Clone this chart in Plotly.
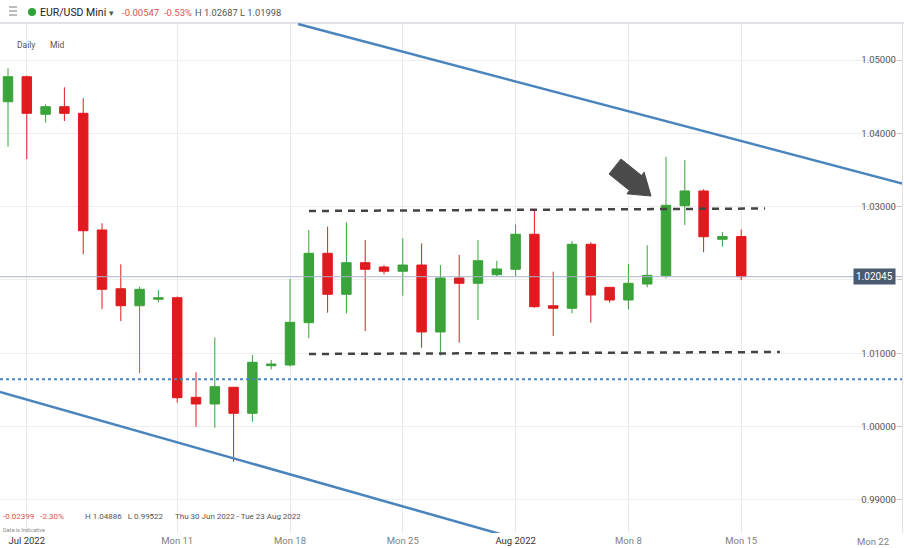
import plotly.graph_objects as go

# ---------------- data ----------------
dates = ["2022-06-30", "2022-07-01", "2022-07-03", "2022-07-04", "2022-07-05", "2022-07-06",
         "2022-07-07", "2022-07-08", "2022-07-10", "2022-07-11", "2022-07-12", "2022-07-13",
         "2022-07-14", "2022-07-15", "2022-07-17", "2022-07-18", "2022-07-19", "2022-07-20",
         "2022-07-21", "2022-07-22", "2022-07-24", "2022-07-25", "2022-07-26", "2022-07-27",
         "2022-07-28", "2022-07-29", "2022-07-31", "2022-08-01", "2022-08-02", "2022-08-03",
         "2022-08-04", "2022-08-05", "2022-08-07", "2022-08-08", "2022-08-09", "2022-08-10",
         "2022-08-11", "2022-08-12", "2022-08-14", "2022-08-15"]
opens = [1.04431, 1.04772, 1.04260, 1.04363, 1.04273, 1.02682, 1.01881, 1.01649, 1.01737, 1.01758,
         1.00400, 1.00309, 1.00537, 1.00182, 1.00831, 1.00841, 1.01418, 1.02364, 1.01805, 1.02236,
         1.02177, 1.02119, 1.02204, 1.01291, 1.02027, 1.01955, 1.02072, 1.02146, 1.02624, 1.01649,
         1.01614, 1.02487, 1.01900, 1.01727, 1.01945, 1.02059, 1.03013, 1.03214, 1.02555, 1.02592]
highs = [1.04886, 1.04786, 1.04396, 1.04628, 1.04478, 1.02773, 1.02214, 1.01909, 1.01863, 1.01775,
         1.00741, 1.01218, 1.00541, 1.00977, 1.00909, 1.02014, 1.02682, 1.02727, 1.02787, 1.02545,
         1.02204, 1.02568, 1.02500, 1.02204, 1.02341, 1.02545, 1.02263, 1.02757, 1.02948, 1.02113,
         1.02532, 1.02514, 1.01904, 1.02218, 1.02473, 1.03681, 1.03636, 1.03237, 1.02654, 1.02687]
lows = [1.03818, 1.03650, 1.04145, 1.04168, 1.02350, 1.01604, 1.01441, 1.00727, 1.01696, 1.00327,
        0.99999, 0.99986, 0.99522, 1.00068, 1.00782, 1.00818, 1.01205, 1.01554, 1.01546, 1.01304,
        1.02078, 1.01786, 1.01077, 1.00968, 1.01145, 1.01454, 1.02045, 1.02054, 1.01622, 1.01236,
        1.01546, 1.01418, 1.01690, 1.01600, 1.01900, 1.02023, 1.02750, 1.02378, 1.02454, 1.01998]
closes = [1.04772, 1.04273, 1.04363, 1.04273, 1.02672, 1.01873, 1.01649, 1.01873, 1.01758, 1.00395,
          1.00309, 1.00545, 1.00182, 1.00878, 1.00854, 1.01423, 1.02364, 1.01805, 1.02236, 1.02146,
          1.02119, 1.02204, 1.01291, 1.02027, 1.01955, 1.02263, 1.02150, 1.02624, 1.01636, 1.01614,
          1.02487, 1.01795, 1.01727, 1.01955, 1.02064, 1.03019, 1.03214, 1.02590, 1.02592, 1.02045]

x_tick_pos = [1, 9, 15, 21, 27, 33, 39, 46]
x_tick_labels = ["Jul 2022", "Mon 11", "Mon 18", "Mon 25", "Aug 2022", "Mon 8", "Mon 15", "Mon 22"]
y_tick_vals = [0.99, 1.00, 1.01, 1.02, 1.03, 1.04, 1.05]
y_tick_labels = ["0.99000", "1.00000", "1.01000", "", "1.03000", "1.04000", "1.05000"]

last_price = 1.02045
support_level = 1.00648
upper_trend_x = [15.43, 47.66]
upper_trend_y = [1.05491, 1.03309]
lower_trend_x = [-0.43, 26.17]
lower_trend_y = [1.00473, 0.98536]
resist_x = [16.01, 40.27]
resist_y = [1.02941, 1.02975]
range_low_x = [16.01, 41.06]
range_low_y = [1.00991, 1.01018]
arrow_x = [32.606, 33.697, 33.835, 34.202, 32.920, 33.059, 31.968]
arrow_y = [1.03650, 1.03425, 1.03470, 1.03145, 1.03175, 1.03220, 1.03445]

# ---------------- figure ----------------
W, H = 904, 548
ML, MR, MT, MB = 0, 2, 23, 15
PW, PH = W - ML - MR, H - MT - MB
X_RANGE = [-0.4255, 47.553]
Y_RANGE = [0.985497, 1.055046]

GREEN = "#3aa33a"
RED = "#e01b1f"
idx = list(range(len(dates)))

fig = go.Figure()
fig.add_trace(go.Candlestick(
    x=idx, open=opens, high=highs, low=lows, close=closes,
    increasing=dict(line=dict(color=GREEN, width=1), fillcolor=GREEN),
    decreasing=dict(line=dict(color=RED, width=1), fillcolor=RED),
    whiskerwidth=0, hoverinfo="skip", showlegend=False,
))

shapes = []
# header separator
shapes.append(dict(type="line", xref="paper", yref="paper", x0=0, x1=1.01, y0=1.0, y1=1.0,
                   line=dict(color="#dfe2e6", width=2)))
# hamburger
for yy in (7, 11, 15):
    shapes.append(dict(type="line", xref="paper", yref="paper",
                       x0=9 / PW, x1=17 / PW, y0=(H - MB - yy) / PH, y1=(H - MB - yy) / PH,
                       line=dict(color="#9a9a9a", width=1.3)))
# green dot
shapes.append(dict(type="circle", xref="paper", yref="paper",
                   x0=28 / PW, x1=36 / PW, y0=(H - MB - 16) / PH, y1=(H - MB - 8) / PH,
                   fillcolor="#2ea33a", line=dict(width=0)))
# last price line
shapes.append(dict(type="line", xref="paper", yref="y", x0=0, x1=1, y0=last_price, y1=last_price,
                   line=dict(color="#aab2cc", width=1), layer="above"))
# support dotted line
shapes.append(dict(type="line", xref="paper", yref="y", x0=0, x1=1, y0=support_level, y1=support_level,
                   line=dict(color="#4a86c6", width=2, dash="dot")))
# trend lines
shapes.append(dict(type="line", xref="x", yref="y", x0=upper_trend_x[0], x1=upper_trend_x[1],
                   y0=upper_trend_y[0], y1=upper_trend_y[1], line=dict(color="#4a84bd", width=2.5)))
shapes.append(dict(type="line", xref="x", yref="y", x0=lower_trend_x[0], x1=lower_trend_x[1],
                   y0=lower_trend_y[0], y1=lower_trend_y[1], line=dict(color="#4a84bd", width=2.5)))
# range dashed lines
shapes.append(dict(type="line", xref="x", yref="y", x0=resist_x[0], x1=resist_x[1],
                   y0=resist_y[0], y1=resist_y[1], line=dict(color="#444444", width=2.5, dash="7px,6px")))
shapes.append(dict(type="line", xref="x", yref="y", x0=range_low_x[0], x1=range_low_x[1],
                   y0=range_low_y[0], y1=range_low_y[1], line=dict(color="#444444", width=2.5, dash="7px,6px")))
# arrow
path = "M " + " L ".join(f"{a},{b}" for a, b in zip(arrow_x, arrow_y)) + " Z"
shapes.append(dict(type="path", xref="x", yref="y", path=path, fillcolor="#4b4b4b",
                   line=dict(color="#4b4b4b", width=1)))


def px(x):
    return (x - ML) / PW


def py(y):
    return (H - MB - y) / PH


FONT = "Roboto, Liberation Sans, Arial"
ann = []


def txt(x, y, s, size, color, anchor="left"):
    ann.append(dict(x=px(x), y=py(y), xref="paper", yref="paper", text=s, showarrow=False,
                    xanchor=anchor, yanchor="middle", borderpad=0,
                    font=dict(family=FONT, size=size, color=color)))


txt(39, 12, "EUR/USD Mini", 10.5, "#222222")
txt(108, 13, "▾", 9, "#555555")
txt(121, 12, "-0.00547  -0.53%", 9.5, "#d9534f")
txt(194, 12, "H 1.02687 L 1.01998", 9.3, "#555555")
txt(16, 45, "Daily", 8.5, "#555555")
txt(49, 45, "Mid", 8.5, "#555555")
txt(2, 516, "-0.02399   -2.30%", 8, "#d9534f")
txt(84, 516, "H 1.04886   L 0.99522", 8, "#555555")
txt(174, 516, "Thu 30 Jun 2022 - Tue 23 Aug 2022", 8, "#555555")
txt(2, 530, "Data is Indicative", 5.5, "#8a8a8a")

# price tag
ann.append(dict(x=896 / PW, y=last_price, xref="paper", yref="y", text="1.02045", showarrow=False,
                xanchor="right", yanchor="middle", bgcolor="#4a5a70", borderpad=2,
                font=dict(family=FONT, size=10, color="white")))

# tick labels: the last one (beyond the data, under the inside y labels) is drawn as annotation
tick_text = []
for t in x_tick_labels[:-1]:
    if "2022" in t:
        tick_text.append(f'<span style="color:#333333">{t}</span>')
    else:
        tick_text.append(t)
tick_text.append("")
ann.append(dict(x=x_tick_pos[-1], y=0, xref="x", yref="paper", text=x_tick_labels[-1],
                showarrow=False, xanchor="center", yanchor="top", yshift=-1,
                font=dict(family=FONT, size=9.5, color="#808080")))

fig.update_layout(
    width=W, height=H, margin=dict(l=ML, r=MR, t=MT, b=MB),
    paper_bgcolor="white", plot_bgcolor="white",
    showlegend=False, shapes=shapes, annotations=ann,
    boxgap=0.28,
    font=dict(family=FONT),
    xaxis=dict(range=X_RANGE, tickmode="array", tickvals=x_tick_pos, ticktext=tick_text,
               showgrid=True, gridcolor="#eaeaea", gridwidth=1, zeroline=False,
               rangeslider=dict(visible=False), ticks="", showline=False,
               tickfont=dict(size=9.5, color="#808080", family=FONT), fixedrange=True),
    yaxis=dict(range=Y_RANGE, side="right", tickmode="array", tickvals=y_tick_vals,
               ticktext=y_tick_labels, ticklabelposition="inside", ticks="inside", ticklen=5,
               tickcolor="#c8c8c8", showgrid=True, gridcolor="#eeeeee", gridwidth=1,
               zeroline=False, showline=True, linecolor="#e0e0e0",
               tickfont=dict(size=9.5, color="#555555", family=FONT), fixedrange=True),
)

fig.write_html("out.html", config={"displayModeBar": False},
               post_script="document.body.style.margin='0';document.body.style.overflow='hidden';")
